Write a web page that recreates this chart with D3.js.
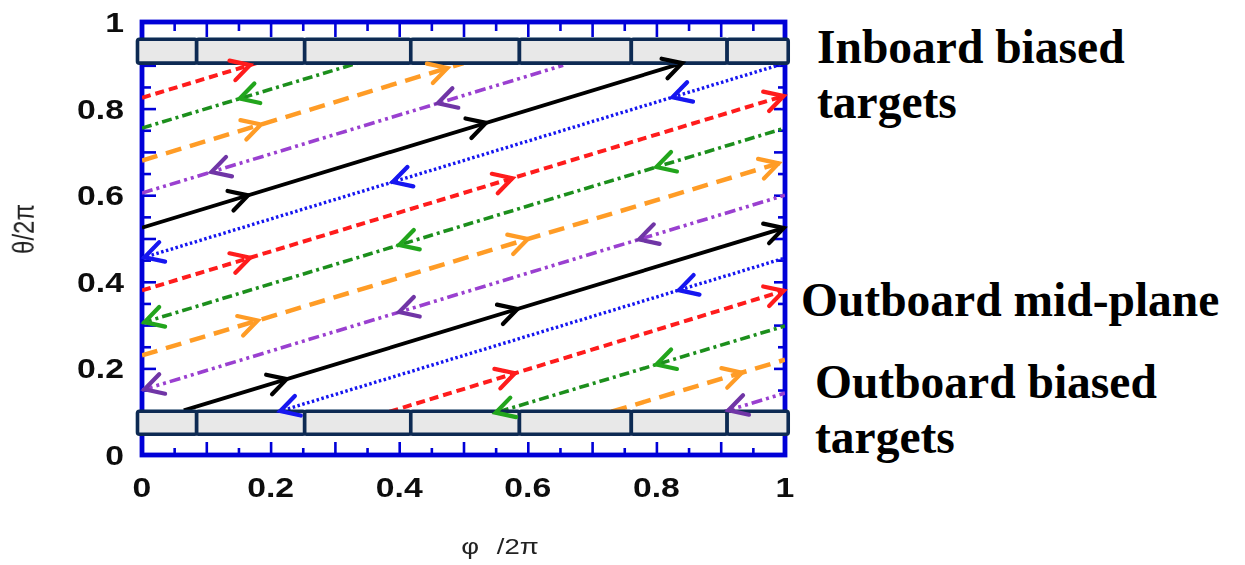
<!DOCTYPE html>
<html>
<head>
<meta charset="utf-8">
<script src="https://cdn.jsdelivr.net/npm/d3@7"></script>
<style>
  html, body { margin: 0; padding: 0; background: #fff; }
  svg { display: block; }
</style>
</head>
<body>
<svg id="chart" width="1245" height="565"></svg>
<script>
// Toroidal angle / poloidal angle map of field-line segments between biased targets
const phiTicks = [0, 0.2, 0.4, 0.6, 0.8, 1];
const thetaTicks = [0, 0.2, 0.4, 0.6, 0.8, 1];
const thetaTickLabels = ["0", "0.2", "0.4", "0.6", "0.8", "1"];
const phiTickLabels = ["0", "0.2", "0.4", "0.6", "0.8", "1"];

// Target tile boundaries (φ/2π) and the two target bands (θ/2π)
const targetEdges = [-0.007, 0.085, 0.253, 0.418, 0.587, 0.761, 0.91, 1.005];
const outboardBand = [0.048, 0.101];
const inboardBand = [0.905, 0.96];

// Field-line segments: family, start (φ, θ), end (φ, θ), arrow positions along φ
const segFamily = ["red", "green", "orange", "purple", "black", "blue",
                   "red", "green", "orange", "purple", "black", "blue",
                   "red", "green", "orange", "purple"];
const segPhi0   = [0, 0, 0, 0, 0, 0, 0, 0, 0, 0, 0.065, 0.212, 0.385, 0.555, 0.73, 0.905];
const segTheta0 = [0.825, 0.755, 0.68, 0.605, 0.525, 0.455, 0.38, 0.305, 0.23, 0.15,
                   0.103, 0.1, 0.1, 0.1, 0.1, 0.1];
const segPhi1   = [0.178, 0.335, 0.5, 0.655, 0.84, 1, 1, 1, 1, 1, 1, 1, 1, 1, 1, 1];
const segTheta1 = [0.905, 0.905, 0.905, 0.9, 0.905, 0.905, 0.83, 0.755, 0.678, 0.6,
                   0.525, 0.455, 0.38, 0.298, 0.22, 0.143];
const segArrowPhi = [[0.168], [0.152], [0.185, 0.475], [0.108, 0.46], [0.165, 0.535, 0.84],
                     [0.004, 0.39, 0.825], [0.168, 0.576, 0.998], [0.004, 0.40, 0.80],
                     [0.18, 0.6, 0.99], [0.004, 0.4, 0.773], [0.225, 0.584, 0.998],
                     [0.215, 0.835], [0.58, 0.998], [0.55, 0.80], [0.933], [0.912]];

const sideLabels = [
  { lines: ["Inboard biased", "targets"], x: 817, y: 63 },
  { lines: ["Outboard mid-plane"], x: 801, y: 316 },
  { lines: ["Outboard biased", "targets"], x: 815, y: 398 }
];

// Line styles per family
const styles = {
  red:    { stroke: "#ff1a1a", arrow: "#ff1a1a", dash: "9,5", width: 4, dir: 1 },
  green:  { stroke: "#1e8f1e", arrow: "#22a51c", dash: "10,4,3,4", width: 3.6, dir: -1 },
  orange: { stroke: "#ff9c26", arrow: "#ff9c26", dash: "16,9", width: 4.5, dir: 1 },
  purple: { stroke: "#9a3fd0", arrow: "#7036a6", dash: "11,4,3,4,3,4", width: 3.6, dir: -1 },
  black:  { stroke: "#000000", arrow: "#000000", dash: null, width: 3.8, dir: 1 },
  blue:   { stroke: "#1414f0", arrow: "#1414f0", dash: "2.5,2.5", width: 3.4, dir: -1 }
};

const svg = d3.select("#chart");
const x = d3.scaleLinear().domain([0, 1]).range([142, 785]);
const y = d3.scaleLinear().domain([0, 1]).range([455, 22]);
const frameColor = "#0000d8";
const stretch = 1.25;

// Slight softening of the plotted figure
const defs = svg.append("defs");
defs.append("filter").attr("id", "soft")
  .attr("x", "-5%").attr("y", "-5%").attr("width", "110%").attr("height", "110%")
  .append("feGaussianBlur").attr("stdDeviation", 0.55);
defs.append("clipPath").attr("id", "plotClip").append("rect")
  .attr("x", x(0)).attr("y", y(1)).attr("width", x(1) - x(0)).attr("height", y(0) - y(1));

const fig = svg.append("g").attr("filter", "url(#soft)");

const majors = d3.range(0, 1.0001, 0.1);
const minors = d3.range(0.05, 1, 0.1);

// Inward tick marks on all four sides
function tickAxis(axisFn, vals, size, transform) {
  const g = fig.append("g").attr("transform", transform)
    .call(axisFn.tickValues(vals).tickSize(size).tickFormat(""));
  g.select(".domain").remove();
  g.selectAll("line").attr("stroke", frameColor).attr("stroke-width", 2.6);
}
tickAxis(d3.axisBottom(x), majors, -13, `translate(0,${y(0)})`);
tickAxis(d3.axisBottom(x), minors, -7, `translate(0,${y(0)})`);
tickAxis(d3.axisTop(x), majors, -15, `translate(0,${y(1)})`);
tickAxis(d3.axisTop(x), minors, -9, `translate(0,${y(1)})`);
const yMaj = d3.range(0, 1.0001, 0.1), yMin = d3.range(0.05, 1, 0.1);
tickAxis(d3.axisLeft(y), yMaj, -14, `translate(${x(0)},0)`);
tickAxis(d3.axisLeft(y), yMin, -9, `translate(${x(0)},0)`);
tickAxis(d3.axisRight(y), yMaj, -11, `translate(${x(1)},0)`);
tickAxis(d3.axisRight(y), yMin, -7, `translate(${x(1)},0)`);

// Frame
fig.append("rect")
  .attr("x", x(0)).attr("y", y(1))
  .attr("width", x(1) - x(0)).attr("height", y(0) - y(1))
  .attr("fill", "none").attr("stroke", frameColor).attr("stroke-width", 4.8);

// Tick labels
const tickFont = "'Liberation Sans', Arial, sans-serif";
fig.append("g").selectAll("text").data(thetaTicks).join("text")
  .attr("transform", d => `translate(124,${y(d) + 10}) scale(${stretch},1)`)
  .attr("text-anchor", "end")
  .attr("font-family", tickFont).attr("font-weight", "bold").attr("font-size", 27)
  .attr("fill", "#111")
  .text((d, i) => thetaTickLabels[i]);
fig.append("g").selectAll("text").data(phiTicks).join("text")
  .attr("transform", d => `translate(${x(d)},497) scale(${stretch},1)`)
  .attr("text-anchor", "middle")
  .attr("font-family", tickFont).attr("font-weight", "bold").attr("font-size", 27)
  .attr("fill", "#111")
  .text((d, i) => phiTickLabels[i]);

// Axis titles
fig.append("text")
  .attr("transform", `translate(34,229) scale(${stretch},1) rotate(-90)`)
  .attr("text-anchor", "middle")
  .attr("font-family", tickFont).attr("font-size", 24).attr("fill", "#222")
  .text("θ/2π");
fig.append("text")
  .attr("transform", `translate(500,554) scale(${stretch},1)`)
  .attr("text-anchor", "middle")
  .attr("font-family", tickFont).attr("font-size", 22).attr("fill", "#222")
  .attr("word-spacing", 8)
  .text("φ /2π");

// Field lines
const lines = fig.append("g").attr("clip-path", "url(#plotClip)");
const lineGen = d3.line().x(d => x(d[0])).y(d => y(d[1]));

segFamily.forEach((fam, i) => {
  const st = styles[fam];
  lines.append("path")
    .attr("d", lineGen([[segPhi0[i], segTheta0[i]], [segPhi1[i], segTheta1[i]]]))
    .attr("fill", "none")
    .attr("stroke", st.stroke)
    .attr("stroke-width", st.width)
    .attr("stroke-dasharray", st.dash)
    .attr("stroke-linecap", "butt");
});

// Target bands made of tiles
[outboardBand, inboardBand].forEach(band => {
  const g = fig.append("g");
  g.selectAll("rect").data(d3.pairs(targetEdges)).join("rect")
    .attr("x", d => x(d[0]))
    .attr("y", y(band[1]))
    .attr("width", d => x(d[1]) - x(d[0]))
    .attr("height", y(band[0]) - y(band[1]))
    .attr("rx", 2)
    .attr("fill", "#e8e8e8")
    .attr("stroke", "#0d2a52")
    .attr("stroke-width", 3.6);
});

// Open chevron arrowheads along each segment, drawn over the targets
const arrows = fig.append("g");
segFamily.forEach((fam, i) => {
  const st = styles[fam];
  const dx = x(segPhi1[i]) - x(segPhi0[i]);
  const dy = y(segTheta1[i]) - y(segTheta0[i]);
  const len = Math.hypot(dx, dy);
  const ux = st.dir * dx / len, uy = st.dir * dy / len;
  segArrowPhi[i].forEach(p => {
    const t = (p - segPhi0[i]) / (segPhi1[i] - segPhi0[i]);
    const th = segTheta0[i] + t * (segTheta1[i] - segTheta0[i]);
    const tx = x(p), ty = y(th);
    const arm = 21, ang = 29 * Math.PI / 180;
    const pts = [-ang, ang].map(a => {
      const c = Math.cos(a), s = Math.sin(a);
      const bx = -ux, by = -uy;
      return [tx + arm * (bx * c - by * s), ty + arm * (bx * s + by * c)];
    });
    arrows.append("path")
      .attr("d", `M${pts[0][0]},${pts[0][1]}L${tx},${ty}L${pts[1][0]},${pts[1][1]}`)
      .attr("fill", "none")
      .attr("stroke", st.arrow)
      .attr("stroke-width", 4.2)
      .attr("stroke-linejoin", "miter")
      .attr("stroke-linecap", "round");
  });
});

// Region labels
sideLabels.forEach(l => {
  const t = svg.append("text")
    .attr("font-family", "'Liberation Serif', 'Times New Roman', serif")
    .attr("font-weight", "bold").attr("font-size", 47.5).attr("fill", "#000");
  l.lines.forEach((s, k) => {
    t.append("tspan").attr("x", l.x).attr("y", l.y + k * 55).text(s);
  });
});
</script>
</body>
</html>
